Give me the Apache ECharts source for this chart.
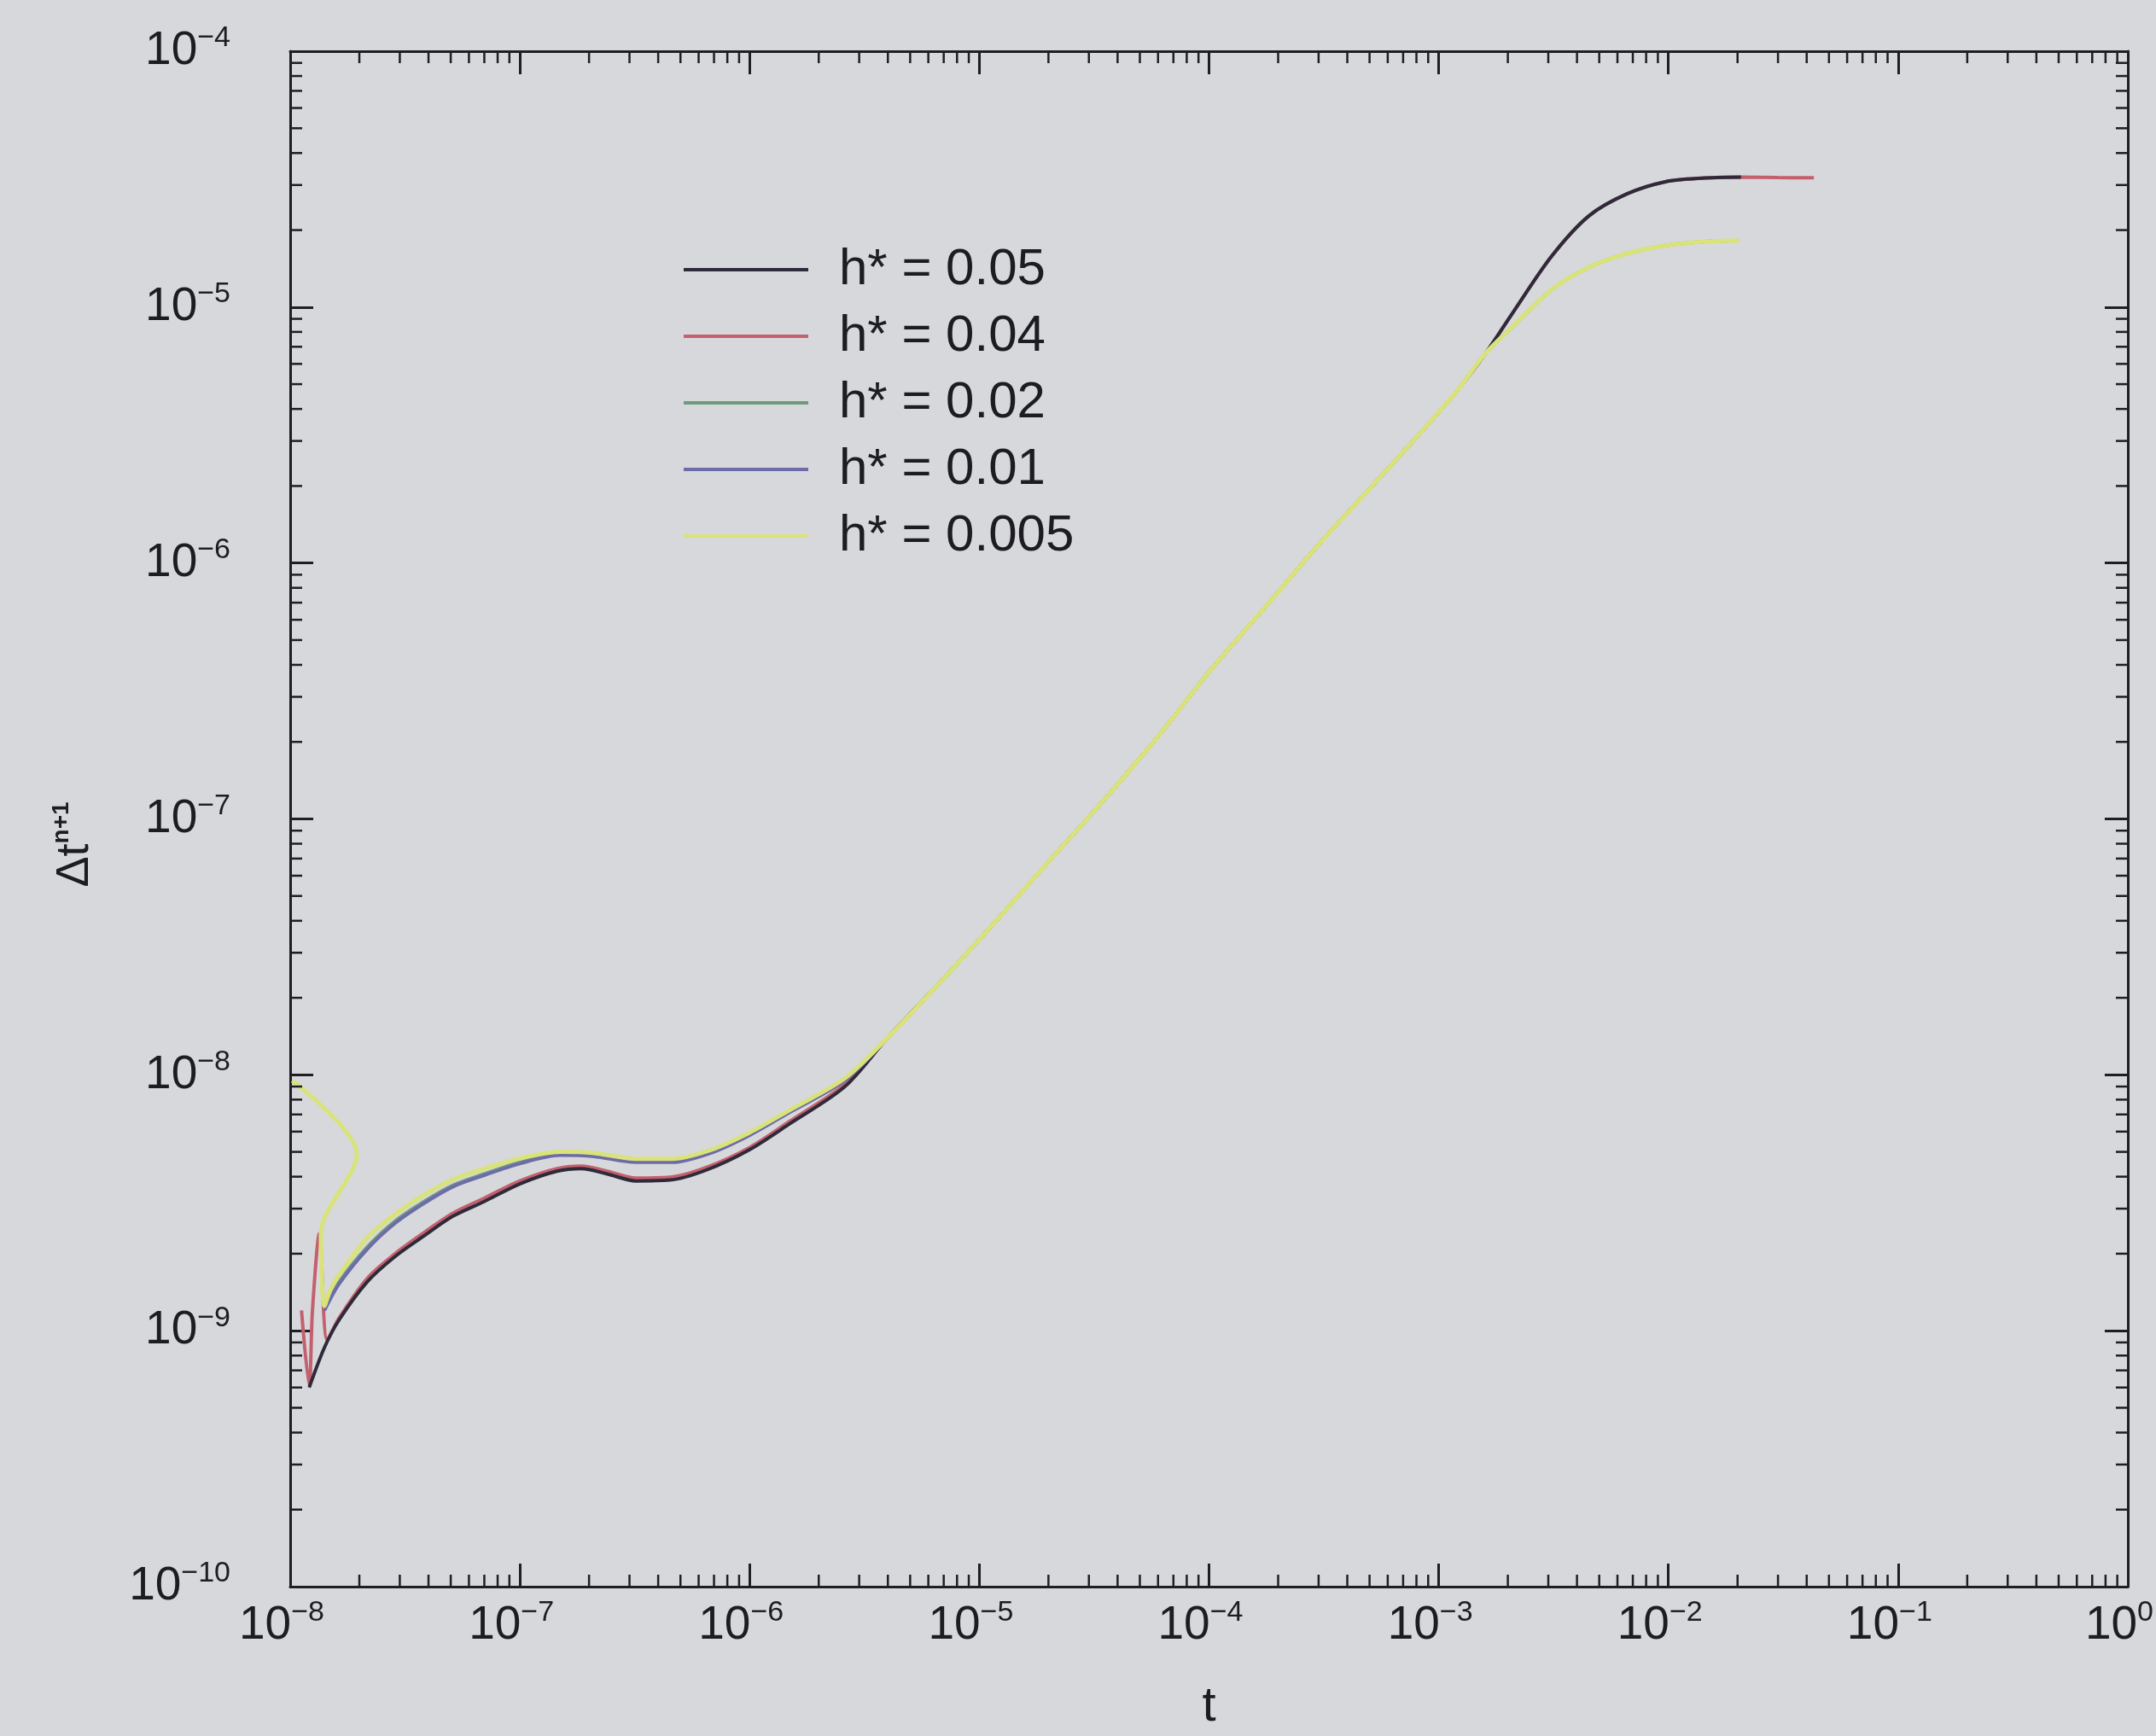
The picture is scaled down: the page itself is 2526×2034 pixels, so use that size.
<!DOCTYPE html>
<html>
<head>
<meta charset="utf-8">
<style>
  html, body { margin: 0; padding: 0; background: #d7d8dc; }
  #chart { width: 2526px; height: 2034px; }
</style>
<script src="https://cdn.jsdelivr.net/npm/echarts@6/dist/echarts.min.js"></script>
</head>
<body>
<div id="chart"></div>
<script>
// ---------------- data ----------------
const seriesNames = ['h* = 0.05', 'h* = 0.04', 'h* = 0.02', 'h* = 0.01', 'h* = 0.005'];
const seriesColors = ['#2e2a3a', '#c4606e', '#6f9a7e', '#6d6ca8', '#d9e37a'];
const seriesZ = [5, 4, 6, 7, 8];

const xTickExponents = [-8, -7, -6, -5, -4, -3, -2, -1, 0];
const yTickExponents = [-10, -9, -8, -7, -6, -5, -4];
const minorMultipliers = [2, 3, 4, 5, 6, 7, 8, 9];

// early transients
const startSpike004 = [[1.12e-8, 1.2e-9], [1.21e-8, 6.1e-10], [1.25e-8, 1.2e-9], [1.34e-8, 2.4e-9], [1.45e-8, 9.2e-10], [1.63e-8, 1.12e-9]];
const startSpike0005 = [[1.02e-8, 9.5e-9], [1.95e-8, 4.9e-9], [1.36e-8, 2.4e-9], [1.41e-8, 1.25e-9]];

// lower branch of the hump (h* = 0.05)
const hump005 = [
  [1.21e-8, 6.0e-10], [1.41e-8, 8.6e-10], [1.63e-8, 1.1e-9], [2.16e-8, 1.55e-9], [2.86e-8, 1.95e-9],
  [3.83e-8, 2.35e-9], [5.1e-8, 2.8e-9], [7.0e-8, 3.2e-9], [1.0e-7, 3.75e-9], [1.45e-7, 4.2e-9],
  [1.85e-7, 4.3e-9], [2.4e-7, 4.1e-9], [3.2e-7, 3.85e-9], [4.5e-7, 3.88e-9], [6.5e-7, 4.25e-9],
  [1.0e-6, 5.1e-9], [1.5e-6, 6.45e-9], [2.6e-6, 9.0e-9]
];
// h* = 0.04 hump (just above 0.05)
const hump004 = [
  [2.16e-8, 1.6e-9], [2.86e-8, 2.0e-9], [3.83e-8, 2.42e-9], [5.1e-8, 2.88e-9], [7.0e-8, 3.3e-9],
  [1.0e-7, 3.85e-9], [1.45e-7, 4.3e-9], [1.85e-7, 4.4e-9], [2.4e-7, 4.2e-9], [3.2e-7, 3.95e-9],
  [4.5e-7, 3.98e-9], [6.5e-7, 4.35e-9], [1.0e-6, 5.2e-9], [1.5e-6, 6.6e-9], [2.6e-6, 9.2e-9]
];
// upper branch of the hump (h* = 0.02)
const hump002 = [
  [1.41e-8, 1.23e-9], [1.63e-8, 1.55e-9], [2.16e-8, 2.12e-9], [2.86e-8, 2.68e-9], [3.83e-8, 3.2e-9],
  [5.1e-8, 3.7e-9], [7.0e-8, 4.1e-9], [1.0e-7, 4.55e-9], [1.5e-7, 4.9e-9], [2.1e-7, 4.85e-9],
  [3.2e-7, 4.6e-9], [4.6e-7, 4.6e-9], [6.8e-7, 5.0e-9], [1.0e-6, 5.85e-9], [1.5e-6, 7.2e-9],
  [2.6e-6, 9.6e-9]
];
// h* = 0.01 (almost on top of 0.02)
const hump001 = [
  [1.41e-8, 1.2e-9], [1.63e-8, 1.52e-9], [2.16e-8, 2.08e-9], [2.86e-8, 2.63e-9], [3.83e-8, 3.15e-9],
  [5.1e-8, 3.65e-9], [7.0e-8, 4.05e-9], [1.0e-7, 4.5e-9], [1.5e-7, 4.85e-9], [2.1e-7, 4.8e-9],
  [3.2e-7, 4.55e-9], [4.6e-7, 4.55e-9], [6.8e-7, 4.95e-9], [1.0e-6, 5.8e-9], [1.5e-6, 7.15e-9],
  [2.6e-6, 9.5e-9]
];
// h* = 0.005 (slightly above the upper branch)
const hump0005 = [
  [1.5e-8, 1.45e-9], [1.63e-8, 1.65e-9], [2.16e-8, 2.3e-9], [2.86e-8, 2.85e-9], [3.83e-8, 3.4e-9],
  [5.1e-8, 3.9e-9], [7.0e-8, 4.3e-9], [1.0e-7, 4.72e-9], [1.5e-7, 5.0e-9], [2.1e-7, 4.95e-9],
  [3.2e-7, 4.7e-9], [4.6e-7, 4.7e-9], [6.8e-7, 5.1e-9], [1.0e-6, 5.95e-9], [1.5e-6, 7.3e-9],
  [2.6e-6, 9.7e-9]
];
// common straight part (all curves collapse)
const mergedPart = [
  [4.0e-6, 1.40e-8], [7.0e-6, 2.38e-8], [1.2e-5, 4.05e-8], [2.0e-5, 6.8e-8], [3.5e-5, 1.19e-7],
  [6.0e-5, 2.1e-7], [1.0e-4, 3.75e-7], [1.8e-4, 6.9e-7], [3.0e-4, 1.18e-6], [5.0e-4, 1.95e-6],
  [8.0e-4, 3.1e-6], [1.2e-3, 4.7e-6], [1.6e-3, 6.6e-6]
];
// plateaus
const plateauHigh = [
  [2.1e-3, 9.5e-6], [3.1e-3, 1.58e-5], [4.5e-3, 2.27e-5], [6.6e-3, 2.77e-5], [9.7e-3, 3.09e-5],
  [1.4e-2, 3.19e-5], [2.07e-2, 3.22e-5]
];
const plateauHigh004Extra = [[3.0e-2, 3.21e-5], [4.3e-2, 3.2e-5]];
const plateauLow = [
  [2.1e-3, 8.4e-6], [3.1e-3, 1.17e-5], [4.5e-3, 1.43e-5], [6.6e-3, 1.62e-5], [9.7e-3, 1.74e-5],
  [1.4e-2, 1.8e-5], [2.04e-2, 1.82e-5]
];

// ---------------- assembling ----------------
const data005 = hump005.concat(mergedPart, plateauHigh);
const data004 = startSpike004.concat(hump004, mergedPart, plateauHigh, plateauHigh004Extra);
const data002 = hump002.concat(mergedPart, plateauLow);
const data001 = hump001.concat(mergedPart, plateauLow);
const data0005 = startSpike0005.concat(hump0005, mergedPart, plateauLow);
const allData = [data005, data004, data002, data001, data0005];
const lineWidths = [4, 4, 4, 4, 5];

const X_MIN = 1e-8, X_MAX = 1, Y_MIN = 1e-10, Y_MAX = 1e-4;

const xMinor = [];
xTickExponents.slice(0, -1).forEach(e => minorMultipliers.forEach(m => xMinor.push([m * Math.pow(10, e), Y_MIN])));
const yMinor = [];
yTickExponents.slice(0, -1).forEach(e => minorMultipliers.forEach(m => yMinor.push([X_MIN, m * Math.pow(10, e)])));

const AXIS_COLOR = '#1e1e24';
const TEXT_COLOR = '#1c1c22';
const FONT = '"Liberation Sans", Arial, Helvetica, sans-serif';
const MINOR_LEN = 14;

function expLabel(v, list) {
  const e = Math.round(Math.log10(v));
  if (list.indexOf(e) < 0) return '';
  const s = e < 0 ? '\u2212' + (-e) : String(e);
  return '{b|10}{s|' + s + '}';
}
const labelRich = {
  b: { fontSize: 55, lineHeight: 64, color: TEXT_COLOR, fontFamily: FONT },
  s: { fontSize: 34, lineHeight: 24, verticalAlign: 'top', color: TEXT_COLOR, fontFamily: FONT }
};

function axisBase(extra) {
  return Object.assign({
    type: 'log',
    logBase: 10,
    splitNumber: 10,
    axisLine: { show: true, lineStyle: { color: AXIS_COLOR, width: 3 } },
    axisTick: { show: true, inside: true, length: 27, lineStyle: { color: AXIS_COLOR, width: 3 } },
    minorTick: { show: false },
    splitLine: { show: false }
  }, extra);
}

const chart = echarts.init(document.getElementById('chart'), null, { renderer: 'canvas' });

const lineSeries = seriesNames.map((name, i) => ({
  name: name,
  type: 'line',
  xAxisIndex: 0,
  yAxisIndex: 0,
  data: allData[i],
  showSymbol: false,
  symbol: 'none',
  smooth: 0.3,
  clip: true,
  color: seriesColors[i],
  lineStyle: { color: seriesColors[i], width: lineWidths[i] },
  z: seriesZ[i],
  silent: true
}));

const minorXSeries = {
  type: 'custom',
  xAxisIndex: 0, yAxisIndex: 0,
  data: xMinor,
  silent: true,
  z: 10,
  renderItem: function (params, api) {
    const v = api.value(0);
    const pb = api.coord([v, Y_MIN]);
    const pt = api.coord([v, Y_MAX]);
    const st = { stroke: AXIS_COLOR, lineWidth: 2.5 };
    return { type: 'group', children: [
      { type: 'line', shape: { x1: pb[0], y1: pb[1], x2: pb[0], y2: pb[1] - MINOR_LEN }, style: st },
      { type: 'line', shape: { x1: pt[0], y1: pt[1], x2: pt[0], y2: pt[1] + MINOR_LEN }, style: st }
    ]};
  }
};
const minorYSeries = {
  type: 'custom',
  xAxisIndex: 0, yAxisIndex: 0,
  data: yMinor,
  silent: true,
  z: 10,
  renderItem: function (params, api) {
    const v = api.value(1);
    const pl = api.coord([X_MIN, v]);
    const pr = api.coord([X_MAX, v]);
    const st = { stroke: AXIS_COLOR, lineWidth: 2.5 };
    return { type: 'group', children: [
      { type: 'line', shape: { x1: pl[0], y1: pl[1], x2: pl[0] + MINOR_LEN, y2: pl[1] }, style: st },
      { type: 'line', shape: { x1: pr[0], y1: pr[1], x2: pr[0] - MINOR_LEN, y2: pr[1] }, style: st }
    ]};
  }
};

chart.setOption({
  backgroundColor: '#d7d8dc',
  animation: false,
  textStyle: { fontFamily: FONT, color: TEXT_COLOR },
  grid: { left: 340, right: 32, top: 60, bottom: 173, containLabel: false },
  legend: {
    data: seriesNames.map((n, i) => ({ name: n, icon: 'rect', itemStyle: { color: seriesColors[i] } })),
    orient: 'vertical',
    left: 801,
    top: 286,
    padding: 0,
    itemWidth: 146,
    itemHeight: 4,
    itemGap: 18,
    selectedMode: false,
    textStyle: { fontSize: 60, lineHeight: 60, color: TEXT_COLOR, fontFamily: FONT, padding: [0, 0, 0, 31] }
  },
  xAxis: [
    axisBase({
      position: 'bottom', min: X_MIN, max: X_MAX,
      name: 't', nameLocation: 'middle', nameGap: 112,
      nameTextStyle: { fontSize: 58, color: TEXT_COLOR, fontFamily: FONT },
      axisLabel: {
        show: true, margin: 14, showMinLabel: true, showMaxLabel: true,
        padding: [0, 20, 0, 0],
        formatter: v => expLabel(v, xTickExponents),
        rich: labelRich
      }
    }),
    axisBase({ position: 'top', min: X_MIN, max: X_MAX, axisLabel: { show: false } })
  ],
  yAxis: [
    axisBase({
      position: 'left', min: Y_MIN, max: Y_MAX,
      name: '{a|\u0394t}{s|n+1}', nameLocation: 'middle', nameGap: 222, nameRotate: 90,
      nameTextStyle: {
        color: TEXT_COLOR, fontFamily: FONT, padding: [0, 60, 0, 0],
        rich: {
          a: { fontSize: 54, lineHeight: 60, color: TEXT_COLOR, fontFamily: FONT },
          s: { fontSize: 28, lineHeight: 24, verticalAlign: 'top', color: TEXT_COLOR, fontFamily: FONT, fontWeight: 'bold' }
        }
      },
      axisLabel: {
        show: true, margin: 70, align: 'right', showMinLabel: true, showMaxLabel: true,
        formatter: v => expLabel(v, yTickExponents),
        rich: labelRich
      }
    }),
    axisBase({ position: 'right', min: Y_MIN, max: Y_MAX, axisLabel: { show: false } })
  ],
  series: lineSeries.concat([minorXSeries, minorYSeries])
});
</script>
</body>
</html>
